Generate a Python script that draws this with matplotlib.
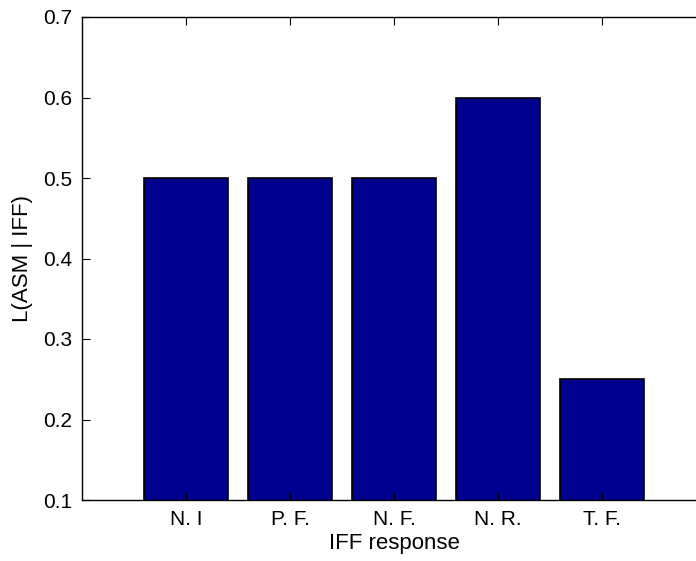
import matplotlib.pyplot as plt

# IFF response categories and likelihood values
categories = ['N. I', 'P. F.', 'N. F.', 'N. R.', 'T. F.']
values = [0.5, 0.5, 0.5, 0.6, 0.25]
yticks = [0.1, 0.2, 0.3, 0.4, 0.5, 0.6, 0.7]

plt.rcParams['font.family'] = ['Liberation Sans', 'DejaVu Sans']

fig = plt.figure(figsize=(6.96, 5.61), dpi=100)
ax = fig.add_axes([82 / 696, 61 / 561, 624 / 696, 483 / 561])

pos = list(range(1, len(categories) + 1))
ax.bar(pos, values, width=0.8, color='#00008F', edgecolor='black', linewidth=1.2)

ax.set_xlim(0, 6)
ax.set_ylim(0.1, 0.7)
ax.set_xticks(pos)
ax.set_xticklabels(categories)
ax.set_yticks(yticks)
ax.set_yticklabels([f'{t:.1f}' for t in yticks])
ax.tick_params(direction='in', top=True, right=True, labelsize=15, length=6, pad=7)
for s in ax.spines.values():
    s.set_linewidth(1.0)

ax.set_xlabel('IFF response', fontsize=16, labelpad=3)
ax.set_ylabel('L(ASM | IFF)', fontsize=16, labelpad=7)

fig.savefig('out.png', dpi=100)
